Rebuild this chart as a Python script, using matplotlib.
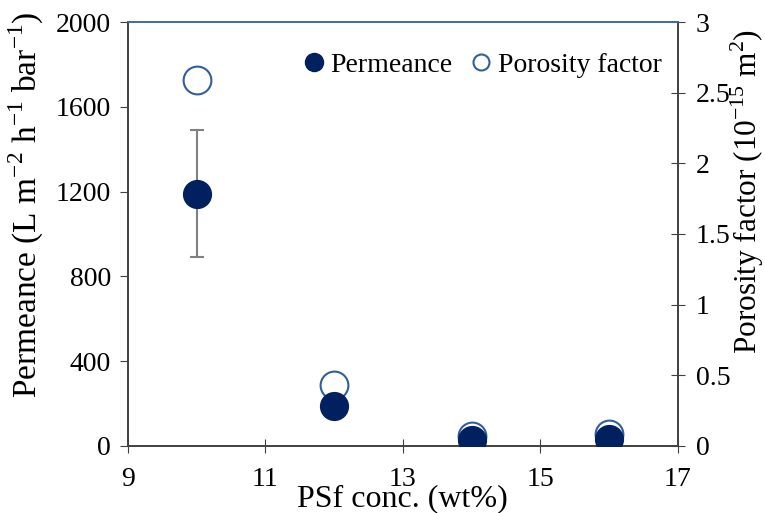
import matplotlib
matplotlib.use('Agg')
import matplotlib.pyplot as plt
from matplotlib.lines import Line2D

# data
conc = [10, 12, 14, 16]
permeance = [1190, 190, 28, 33]
permeance_err = [300, 0, 0, 0]
porosity = [2.59, 0.43, 0.07, 0.08]

plt.rcParams['font.family'] = ['Liberation Serif', 'DejaVu Serif']
plt.rcParams['mathtext.fontset'] = 'custom'
plt.rcParams['mathtext.rm'] = 'Liberation Serif'

fig = plt.figure(figsize=(7.65, 5.13), dpi=100)
ax = fig.add_axes([0.167, 0.131, 0.719, 0.826])
ax2 = ax.twinx()

navy = '#002060'
blue = '#2f5f9e'

ax.errorbar(conc, permeance, yerr=permeance_err, fmt='none', ecolor='#808080',
            elinewidth=1.5, capsize=5, capthick=1.5, zorder=1)
ax2.plot(conc, porosity, 'o', ms=20, mfc='white', mec=blue, mew=1.5, zorder=2)
ax.plot(conc, permeance, 'o', ms=20, color=navy, zorder=3)
# permeance axis drawn over the porosity axis
ax.set_zorder(ax2.get_zorder() + 1)
ax.patch.set_visible(False)

ax.set_xlim(9, 17)
ax.set_ylim(0, 2000)
ax2.set_ylim(0, 3)
ax.set_xticks([9, 11, 13, 15, 17])
ax.set_yticks([0, 400, 800, 1200, 1600, 2000])
ax2.set_yticks([0, 0.5, 1, 1.5, 2, 2.5, 3])
ax2.set_yticklabels(['0', '0.5', '1', '1.5', '2', '2.5', '3'])

ax.set_xlabel('PSf conc. (wt%)', fontsize=23, labelpad=-5)
ax.set_ylabel(r'Permeance (L m$^{\mathrm{-2}}$ h$^{\mathrm{-1}}$ bar$^{\mathrm{-1}}$)',
              fontsize=24)
ax.yaxis.set_label_coords(-0.149, 0.57)
ax2.set_ylabel(r'Porosity factor (10$^{\mathrm{-15}}$ m$^{\mathrm{2}}$)', fontsize=22.5)
ax2.yaxis.set_label_coords(1.092, 0.60)

for a in (ax, ax2):
    for s in a.spines.values():
        s.set_color('#404040')
        s.set_linewidth(1.2)
    a.spines['top'].set_color('#3a6ea5')
ax.tick_params(axis='y', direction='out', length=6, labelsize=20, color='#404040', pad=6)
ax.tick_params(axis='x', direction='inout', length=10, labelsize=20, color='#404040', pad=10)
ax2.tick_params(axis='y', direction='inout', length=10, labelsize=20, color='#404040', pad=8)

handles = [Line2D([], [], marker='o', ls='none', ms=13, color=navy),
           Line2D([], [], marker='o', ls='none', ms=11.5, mfc='white', mec=blue, mew=1.5)]
ax.legend(handles, ['Permeance', 'Porosity factor'], loc='upper right', ncol=2,
          frameon=False, fontsize=20, handlelength=0.8, handletextpad=0.2,
          columnspacing=0.62, bbox_to_anchor=(1.016, 0.987))

fig.savefig('out.png', dpi=100)
